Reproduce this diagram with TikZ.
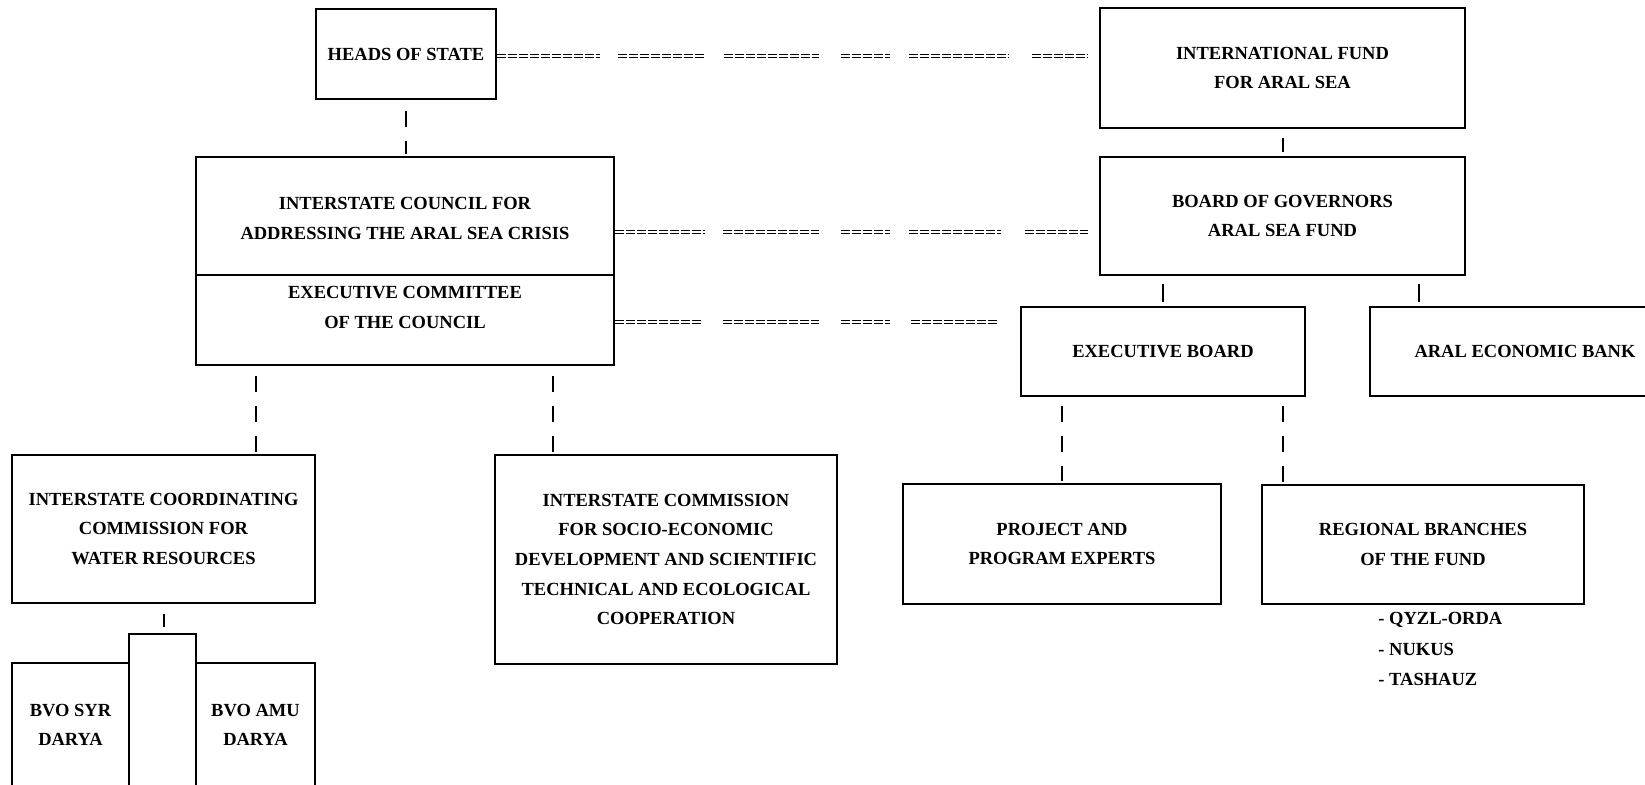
\documentclass[tikz,border=0pt]{standalone}
\usepackage{fontspec}
\setmainfont{Liberation Serif}
\newcommand\boxfont{\fontsize{9.25pt}{14.8pt}\selectfont\bfseries}
\begin{document}
\begin{tikzpicture}[x=0.5pt,y=-0.5pt,
  box/.style={draw, line width=1pt, inner sep=0pt, align=center, font=\boxfont},
  txt/.style={inner sep=0pt, align=center, font=\boxfont},
  vdash/.style={line width=1pt, dash pattern=on 8pt off 7pt, shorten <=5pt, shorten >=1pt},
  tick/.style={line width=1pt, shorten <=4.5pt, shorten >=2pt},
  eq/.style={line width=0.65pt, double distance=0.85pt, dash pattern=on 4.5pt off 1pt}]
\useasboundingbox (0,0) rectangle (1645,784);
\clip (0,0) rectangle (1645,784);
\fill[white] (0,0) rectangle (1645,784);

% boxes
\node[box, minimum width=90pt, minimum height=45pt] (heads) at (406,54) {HEADS OF STATE};
\node[box, minimum width=182.5pt, minimum height=60pt] (intl) at (1282.5,68) {INTERNATIONAL FUND\\FOR ARAL SEA};
\node[box, minimum width=209pt, minimum height=104pt] (council) at (405,261) {};
\draw[line width=1pt] (council.west |- 0,275) -- (council.east |- 0,275);
\node[txt] (councilA) at (405,218.5) {INTERSTATE COUNCIL FOR\\ADDRESSING THE ARAL SEA CRISIS};
\node[txt] (councilB) at (405,307.5) {EXECUTIVE COMMITTEE\\OF THE COUNCIL};
\node[box, minimum width=182.5pt, minimum height=59pt] (bog) at (1282.5,216) {BOARD OF GOVERNORS\\ARAL SEA FUND};
\node[box, minimum width=142pt, minimum height=44.5pt] (eb) at (1163,351.5) {EXECUTIVE BOARD};
\node[box, minimum width=155pt, minimum height=44.5pt] (bank) at (1525,351.5) {ARAL ECONOMIC BANK};
\node[box, minimum width=151.5pt, minimum height=74pt] (icwc) at (163.5,529) {INTERSTATE COORDINATING\\COMMISSION FOR\\WATER RESOURCES};
\node[box, minimum width=171pt, minimum height=104.5pt] (icsd) at (666,559.5) {INTERSTATE COMMISSION\\FOR SOCIO-ECONOMIC\\DEVELOPMENT AND SCIENTIFIC\\TECHNICAL AND ECOLOGICAL\\COOPERATION};
\node[box, minimum width=159pt, minimum height=60pt] (proj) at (1062,544) {PROJECT AND\\PROGRAM EXPERTS};
\node[box, minimum width=161pt, minimum height=59.5pt] (reg) at (1423,544.5) {REGIONAL BRANCHES\\OF THE FUND};
\node[box, minimum width=33.5pt, minimum height=83pt] (mid) at (162.5,717) {};
\node[box, minimum width=58.5pt, minimum height=62pt] (syr) at (70.5,725) {BVO SYR\\DARYA};
\node[box, minimum width=59.5pt, minimum height=62pt] (amu) at (255.5,725) {BVO AMU\\DARYA};

% list of branches
\node[txt, anchor=west] (l1) at (1378,620) {- QYZL-ORDA};
\node[txt, anchor=west] (l2) at (1378,649) {- NUKUS};
\node[txt, anchor=west] (l3) at (1378,679) {- TASHAUZ};

% dashed connectors
\draw[vdash, shorten <=5.5pt] (heads.south) -- (heads.south |- council.north);
\draw[vdash] (council.south -| 256,0) -- (icwc.north -| 256,0);
\draw[vdash] (council.south -| 553,0) -- (icsd.north -| 553,0);
\draw[vdash, shorten <=4.5pt] (eb.south -| proj.north) -- (proj.north);
\draw[vdash, shorten <=4.5pt] (eb.south -| 1283,0) -- (reg.north -| 1283,0);

% short solid connectors
\draw[tick] (intl.south) -- (bog.north);
\draw[tick, shorten <=4pt] (bog.south -| eb.north) -- (eb.north);
\draw[tick, shorten <=4pt] (bog.south -| 1419,0) -- (bank.north -| 1419,0);
\draw[tick, shorten <=5pt, shorten >=3pt] (icwc.south) -- (icwc.south |- mid.north);

% double dashed links
\draw[eq, shorten <=2pt, shorten >=5.5pt] (heads.east |- 0,56) -- (600,56)
  (618,56) -- (706,56) (724,56) -- (819,56) (841,56) -- (890,56)
  (909,56) -- (1009,56) (1028,56) -- (intl.west |- 0,56);
\draw[eq, shorten <=1pt, shorten >=5.5pt] (council.east |- 0,232) -- (705,232)
  (723,232) -- (819,232) (841,232) -- (890,232)
  (909,232) -- (1001,232) (1023,232) -- (bog.west |- 0,232);
\draw[eq, shorten <=1pt, shorten >=10.5pt] (council.east |- 0,322) -- (701,322)
  (723,322) -- (819,322) (841,322) -- (890,322)
  (909,322) -- (eb.west |- 0,322);
\end{tikzpicture}
\end{document}
